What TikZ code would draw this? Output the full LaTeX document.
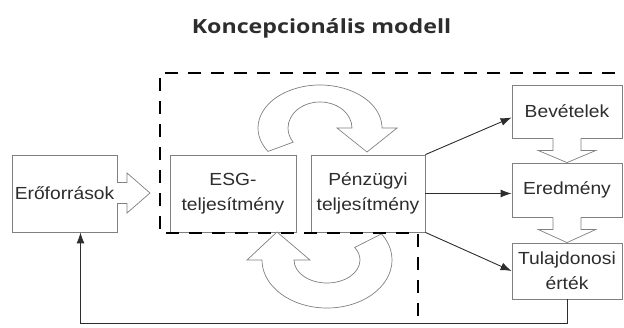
\documentclass[tikz,border=0pt]{standalone}
\usepackage{fontspec}
\setmainfont{Liberation Sans}[FakeStretch=1.1]
\newfontfamily\headfont{Open Sans}[FakeStretch=1.19]
\usetikzlibrary{arrows.meta,positioning,calc}
\definecolor{edge}{RGB}{128,128,128}
\definecolor{ink}{RGB}{45,45,45}
\tikzset{
  box/.style={draw=edge,fill=white,line width=0.8pt,align=center,text=ink,font=\fontsize{17.5}{25}\selectfont,inner sep=0pt},
  blk/.style={draw=edge,line width=0.7pt,line join=miter},
  conn/.style={draw=ink,line width=0.9pt,-{Latex[length=11pt,width=8pt]}},
  frame/.style={line width=2.6pt,dash pattern=on 13pt off 10pt}
}

\begin{document}
\begin{tikzpicture}[x=1pt,y=-1pt]
\useasboundingbox (0,0) rectangle (624,327);
\node[font=\headfont\bfseries\fontsize{19.5}{23}\selectfont,text=ink,anchor=base] (title) at (321.5,33) {Koncepcionális modell};
% boxes
\node[box,minimum width=105pt,minimum height=77pt] (ero) at (64.5,193.5) {Erőforrások};
\node[box,minimum width=126pt,minimum height=77pt] (esg) at (233,193.5) {ESG-\\teljesítmény};
\node[box,minimum width=114pt,minimum height=77pt] (penz) at (368,193.5) {Pénzügyi\\teljesítmény};
\node[box,minimum width=110pt,minimum height=53pt] (bev) at (567,111.5) {Bevételek};
\node[box,minimum width=110pt,minimum height=54pt] (ered) at (567,190) {Eredmény};
\node[box,minimum width=110pt,minimum height=56pt] (tul) at (567,271) {Tulajdonosi\\érték};
% block arrows
\fill[white] (115,182.5) rectangle (128,203.5);
\draw[blk] (117,182.5) -- (127,182.5) -- (127,173) -- (150,193) -- (127,213) -- (127,203.5) -- (117,203.5);
\foreach \a/\b in {bev/ered,ered/tul}{
  \fill[white] ($(\a.south)+(-14,-1.5)$) rectangle ($(\a.south)+(14,12)$);
  \draw[blk] ($(\a.south)+(-14,0)$) -- ++(0,12) -- ++(-15,0) -- (\b.north)
    -- ($(\a.south)+(29,12)$) -- ++(-15,0) -- ++(0,-12);
}
% loops
\draw[blk,fill=white] (320,128) ++(147:62 and 43) arc[start angle=147,end angle=360,x radius=62,y radius=43]
  -- (397,128) -- (367,152) -- (337,128) -- (352,128)
  arc[start angle=360,end angle=147,x radius=32,y radius=26] -- cycle;
\draw[blk,fill=white] (327,260) ++(-33:65 and 48) arc[start angle=-33,end angle=180,x radius=65,y radius=48]
  -- (247,260) -- (277,232) -- (310,260) -- (294,260)
  arc[start angle=180,end angle=-33,x radius=33,y radius=23] -- cycle;
% connectors
\draw[conn] (penz.north east) -- ([yshift=-6pt]bev.west);
\draw[conn] (penz.east) -- (penz.east -| ered.west);
\draw[conn] (penz.south east) -- (tul.west);
\draw[conn] (tul.south) -- ++(0,24) -| ([xshift=16pt]ero.south);
% dashed boundary
\draw[frame] (615,73) -- (160,73) -- (160,233) -- (418,233) -- (418,316);
\end{tikzpicture}
\end{document}
